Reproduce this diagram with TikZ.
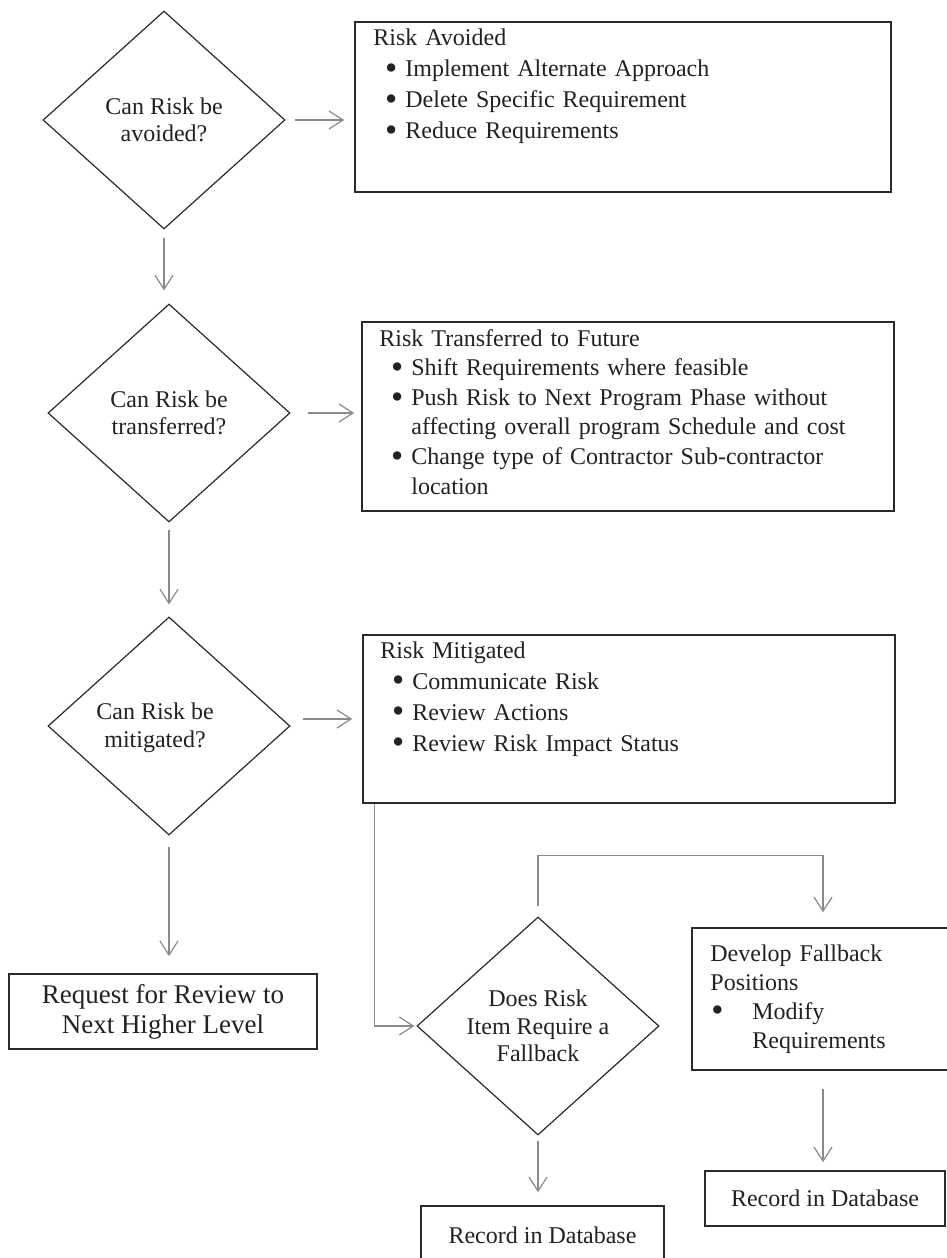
\documentclass[tikz,border=0pt]{standalone}
\usepackage{fontspec}
\setmainfont{Liberation Serif}
\usetikzlibrary{shapes.geometric,arrows.meta,calc}
\definecolor{txt}{HTML}{222222}
\definecolor{linec}{HTML}{2A2A2A}
\definecolor{arrc}{HTML}{8A8A8A}
\newcommand{\bigbul}{\raisebox{-0.12em}{\scalebox{1.45}{\textbullet}}}
\newcommand{\myitem}[1]{\makebox[16pt][l]{\hspace{5.8pt}\bigbul}#1}
\begin{document}
\begin{tikzpicture}[x=0.5pt,y=-0.5pt]
\tikzset{
  dec/.style={diamond, draw=linec, line width=0.6pt, inner sep=0pt, aspect=1.1,
    minimum width=121pt, minimum height=109pt, align=center, text=txt,
    font=\fontsize{12}{13.8}\selectfont},
  dtext/.style={align=center, inner sep=0pt, text=txt, font=\fontsize{12}{13.8}\selectfont},
  box/.style={draw=linec, line width=0.85pt, inner sep=0pt, text=txt,
    font=\fontsize{12}{14}\selectfont},
  body/.style={anchor=base west, inner sep=0pt, text=txt, align=left},
  conn/.style={draw=arrc, line width=0.6pt, -{Straight Barb[length=7pt,width=9pt]}}
}
\useasboundingbox[fill=white] (0,0) rectangle (947,1258);

% decisions
\node[dec] (d1) at (164,120) {Can Risk be\\avoided?};
\node[dec] (d2) at (169,413) {Can Risk be\\transferred?};
\node[dec] (d3) at (169,726) {};
\node[dtext] (d3t) at (155,728) {Can Risk be\\mitigated?};
\node[dec] (d4) at (538,1026) {Does Risk\\Item Require a\\Fallback};

% boxes
\node[box, minimum width=268pt, minimum height=85pt] (b1) at (623,107) {};
\node[body, text width=250pt, font=\fontsize{12}{15.5}\selectfont] (b1t) at (373,46)
  {Risk Avoided\\
   \myitem{Implement Alternate Approach}\\
   \myitem{Delete Specific Requirement}\\
   \myitem{Reduce Requirements}};

\node[box, minimum width=266pt, minimum height=94.5pt] (b2) at (628,416.5) {};
\node[body, text width=250pt, font=\fontsize{12}{14.8}\selectfont] (b2t) at (379,346)
  {Risk Transferred to Future\\
   \myitem{Shift Requirements where feasible}\\
   \myitem{Push Risk to Next Program Phase without}\\
   \hspace*{16pt}affecting overall program Schedule and cost\\
   \myitem{Change type of Contractor Sub-contractor}\\
   \hspace*{16pt}location};

\node[box, minimum width=266pt, minimum height=84pt] (b3) at (629,719) {};
\node[body, text width=250pt, font=\fontsize{12}{15.5}\selectfont] (b3t) at (380,658)
  {Risk Mitigated\\
   \myitem{Communicate Risk}\\
   \myitem{Review Actions}\\
   \myitem{Review Risk Impact Status}};

\node[box, minimum width=154pt, minimum height=37.5pt, align=center,
  font=\fontsize{13.5}{15}\selectfont] (req) at (163,1011.5)
  {Request for Review to\\Next Higher Level};

\node[box, minimum width=131pt, minimum height=71pt] (fb) at (823,999) {};
\node[body, text width=115pt, font=\fontsize{12}{14.5}\selectfont] (fbt) at (710,961)
  {Develop Fallback\\
   Positions\\
   \makebox[21pt][l]{\hspace{0.5pt}\bigbul}Modify\\
   \hspace*{21pt}Requirements};

\node[box, minimum width=120pt, minimum height=27.5pt] (rec2) at (825,1198.5) {Record in Database};
\node[box, minimum width=121.5pt, minimum height=29pt] (rec1) at (542.5,1235) {Record in Database};

% connectors
\draw[conn, shorten <=4.5pt, shorten >=5pt] (d1.east) -- (d1.east -| b1.west);
\draw[conn, shorten <=4pt, shorten >=6.5pt] (d1.south) -- (d1.south |- d2.north);
\draw[conn, shorten <=8.5pt, shorten >=3.5pt] (d2.east) -- (d2.east -| b2.west);
\draw[conn, shorten <=3.5pt, shorten >=6pt] (d2.south) -- (d2.south |- d3.north);
\draw[conn, shorten <=6pt, shorten >=5pt] (d3.east |- b3.west) -- (b3.west);
\draw[conn, shorten <=5.5pt, shorten >=8.5pt] (d3.south) -- (d3.south |- req.north);
\coordinate (b3out) at ($(b3.south west)+(12,0)$);
\draw[conn, shorten >=1pt] (b3out) |- (d4.west);
\draw[conn, shorten <=5pt, shorten >=7.5pt] (d4.north) -- ++(0,-61) -| (fb.north);
\draw[conn, shorten <=9pt, shorten >=4pt] (fb.south) -- (fb.south |- rec2.north);
\draw[conn, shorten <=2.5pt, shorten >=6.5pt] (d4.south) -- (d4.south |- rec1.north);
\end{tikzpicture}
\end{document}
